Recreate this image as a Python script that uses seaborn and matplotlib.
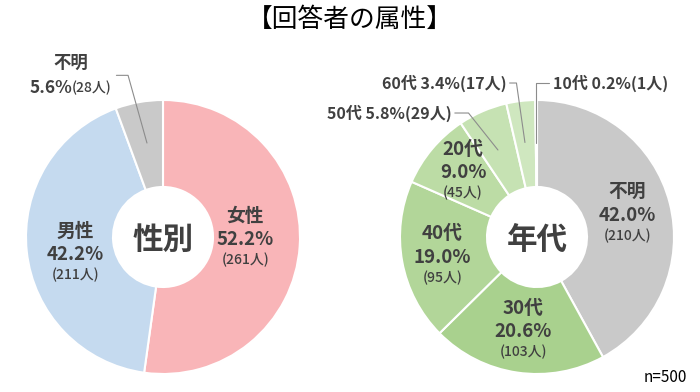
import matplotlib
matplotlib.use("Agg")
import matplotlib.pyplot as plt
import seaborn as sns

sns.set_theme(style="white")
plt.rcParams["font.family"] = ["Noto Sans CJK JP", "DejaVu Sans"]

# gender
gender_labels = ["女性", "男性", "不明"]
gender_pct = [52.2, 42.2, 5.6]
gender_n = [261, 211, 28]
gender_colors = ["#f9b5b8", "#c5daef", "#c9c9c9"]

# age
age_labels = ["不明", "30代", "40代", "20代", "50代", "60代", "10代"]
age_pct = [42.0, 20.6, 19.0, 9.0, 5.8, 3.4, 0.2]
age_n = [210, 103, 95, 45, 29, 17, 1]
age_colors = ["#c9c9c9", "#a9d18e", "#b2d699", "#bcdca5", "#c6e2b3", "#cfe7bf", "#d6ebc8"]

TXT = "#404040"
LINE = "#8c8c8c"

fig = plt.figure(figsize=(7, 3.92), dpi=100)
ax1 = fig.add_axes([26 / 700, 18 / 392, 274 / 700, 274 / 392])
ax2 = fig.add_axes([400 / 700, 18 / 392, 274 / 700, 274 / 392])


def donut(ax, vals, colors, center):
    ax.pie(vals, colors=colors, startangle=90, counterclock=False, radius=1,
           wedgeprops=dict(width=0.635, edgecolor="white", linewidth=1.5))
    ax.set_xlim(-1, 1)
    ax.set_ylim(-1, 1)
    ax.set_aspect("equal")
    ax.axis("off")
    ax.text(0, -0.02, center, ha="center", va="center", fontsize=22,
            fontweight="bold", color=TXT)


def inner(ax, x, y, name, pct, n):
    ax.text(x, y + 0.17, name, ha="center", va="center", fontsize=13.5,
            fontweight="bold", color=TXT)
    ax.text(x, y, f"{pct:.1f}%", ha="center", va="center", fontsize=13.5,
            fontweight="bold", color=TXT)
    ax.text(x, y - 0.15, f"({n}人)", ha="center", va="center", fontsize=10,
            fontweight="medium", color=TXT)


def leader(ax, pts):
    xs, ys = zip(*pts)
    ax.plot(xs, ys, color=LINE, lw=0.8, clip_on=False)


donut(ax1, gender_pct, gender_colors, "性別")
inner(ax1, 0.60, -0.02, gender_labels[0], gender_pct[0], gender_n[0])
inner(ax1, -0.64, -0.13, gender_labels[1], gender_pct[1], gender_n[1])
ax1.text(-0.67, 1.27, gender_labels[2], ha="center", va="center", fontsize=12.5,
         fontweight="bold", color=TXT)
ax1.text(-0.665, 1.09, f"{gender_pct[2]:.1f}%", ha="right", va="center", fontsize=12.5,
         fontweight="bold", color=TXT)
ax1.text(-0.665, 1.09, f"({gender_n[2]}人)", ha="left", va="center", fontsize=10,
         fontweight="medium", color=TXT)
leader(ax1, [(-0.34, 1.18), (-0.255, 1.18), (-0.117, 0.686)])

donut(ax2, age_pct, age_colors, "年代")
inner(ax2, 0.66, 0.16, age_labels[0], age_pct[0], age_n[0])
inner(ax2, -0.10, -0.69, age_labels[1], age_pct[1], age_n[1])
inner(ax2, -0.69, -0.146, age_labels[2], age_pct[2], age_n[2])
inner(ax2, -0.54, 0.47, age_labels[3], age_pct[3], age_n[3])

ax2.text(-0.62, 0.905, f"{age_labels[4]} {age_pct[4]:.1f}%({age_n[4]}人)",
         ha="right", va="center", fontsize=11.5, fontweight="bold", color=TXT)
ax2.text(-0.22, 1.124, f"{age_labels[5]} {age_pct[5]:.1f}%({age_n[5]}人)",
         ha="right", va="center", fontsize=11.5, fontweight="bold", color=TXT)
ax2.text(0.115, 1.124, f"{age_labels[6]} {age_pct[6]:.1f}%({age_n[6]}人)",
         ha="left", va="center", fontsize=11.5, fontweight="bold", color=TXT)
leader(ax2, [(-0.60, 0.905), (-0.50, 0.905), (-0.285, 0.635)])
leader(ax2, [(-0.20, 1.124), (-0.15, 1.124), (-0.088, 0.69)])
leader(ax2, [(0.09, 1.124), (-0.005, 1.124), (-0.005, 0.686)])

fig.text(0.5, 1 - 20 / 392, "【回答者の属性】", ha="center", va="center",
         fontsize=18.5, color="black")
fig.text(665 / 700, 1 - 378 / 392, "n=500", ha="center", va="center",
         fontsize=11, color="black")

fig.savefig("out.png", dpi=100, facecolor="white")
